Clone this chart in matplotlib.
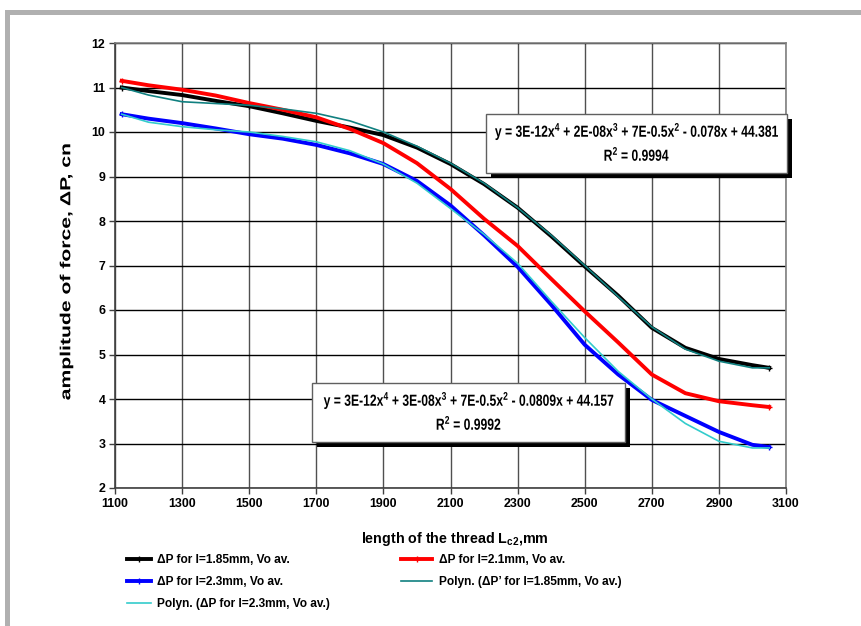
import matplotlib
matplotlib.use("Agg")
import matplotlib.pyplot as plt
from matplotlib.patches import Rectangle, PathPatch
from matplotlib.textpath import TextPath
from matplotlib.font_manager import FontProperties
from matplotlib.transforms import Affine2D

# thread length, mm
length = [1120, 1200, 1300, 1400, 1500, 1600, 1700, 1800, 1900, 2000, 2100,
          2200, 2300, 2400, 2500, 2600, 2700, 2800, 2900, 3000, 3050]

# amplitude of force, cn
dp_185 = [11.0, 10.92, 10.83, 10.7, 10.58, 10.42, 10.25, 10.1, 9.93, 9.65, 9.28,
          8.83, 8.3, 7.66, 6.98, 6.32, 5.6, 5.15, 4.9, 4.76, 4.7]
dp_21 = [11.15, 11.05, 10.95, 10.82, 10.65, 10.5, 10.33, 10.07, 9.75, 9.3, 8.72,
         8.05, 7.44, 6.7, 5.97, 5.27, 4.55, 4.13, 3.95, 3.86, 3.82]
dp_23 = [10.4, 10.3, 10.2, 10.08, 9.95, 9.85, 9.71, 9.52, 9.28, 8.9, 8.35,
         7.68, 6.97, 6.12, 5.22, 4.55, 3.98, 3.62, 3.26, 2.97, 2.92]
poly_185 = [11.0, 10.83, 10.68, 10.64, 10.6, 10.52, 10.42, 10.25, 10.0, 9.68, 9.3,
            8.85, 8.3, 7.68, 7.0, 6.3, 5.62, 5.12, 4.85, 4.7, 4.7]
poly_23 = [10.4, 10.22, 10.12, 10.05, 10.0, 9.9, 9.78, 9.58, 9.28, 8.85, 8.28,
           7.7, 7.05, 6.2, 5.38, 4.62, 4.0, 3.45, 3.05, 2.9, 2.9]

eq_185 = "y = 3E-12x$^4$ + 2E-08x$^3$ + 7E-0.5x$^2$ - 0.078x + 44.381"
r2_185 = "R$^2$ = 0.9994"
eq_23 = "y = 3E-12x$^4$ + 3E-08x$^3$ + 7E-0.5x$^2$ - 0.0809x + 44.157"
r2_23 = "R$^2$ = 0.9992"
y_title = "amplitude of force, ΔP, cn"
x_title = "length of the thread L$_{c2}$,mm"

plt.rcParams['font.family'] = ['Liberation Sans', 'DejaVu Sans']
plt.rcParams['font.weight'] = 'bold'
plt.rcParams['mathtext.fontset'] = 'custom'
plt.rcParams['mathtext.rm'] = 'Liberation Sans:bold'
plt.rcParams['mathtext.default'] = 'rm'

W, H = 862, 626
fig = plt.figure(figsize=(W / 100, H / 100), dpi=100)
ax = fig.add_axes([115 / W, 1 - 488 / H, 671 / W, 445 / H])

ax.plot(length, dp_185, color='black', lw=2.8, marker='+', ms=4, markevery=[0, 4, -1], label='ΔP for l=1.85mm, Vo av.')
ax.plot(length, dp_21, color='#ff0000', lw=2.8, marker='+', ms=4, markevery=[0, -1], label='ΔP for l=2.1mm, Vo av.')
ax.plot(length, dp_23, color='#0000ff', lw=2.8, marker='+', ms=4, markevery=[0, -1], label='ΔP for l=2.3mm, Vo av.')
ax.plot(length, poly_185, color='#108080', lw=1.2, label='Polyn. (ΔP\u2019 for l=1.85mm, Vo av.)')
ax.plot(length, poly_23, color='#33cccc', lw=1.2, label='Polyn. (ΔP for l=2.3mm, Vo av.)')

ax.set_xlim(1100, 3100)
ax.set_ylim(2, 12)
ax.set_xticks(range(1100, 3101, 200))
ax.set_yticks(range(2, 13))
ax.xaxis.grid(True, color='#505050', lw=1)
ax.yaxis.grid(True, color='black', lw=1)
ax.tick_params(labelsize=8.9, length=4, width=1, color='#404040', pad=3)
for lab in ax.get_xticklabels() + ax.get_yticklabels():
    lab.set_fontweight('bold')
for s in ax.spines.values():
    s.set_color('#808080')
    s.set_linewidth(1.2)
ax.spines['left'].set_color('#404040')
ax.spines['bottom'].set_color('#404040')

ax.set_xlabel(x_title, fontsize=10.3, fontweight='bold')
ax.xaxis.set_label_coords(0.5067, -0.095)

# legends below the plot
h, l = ax.get_legend_handles_labels()
leg1 = fig.legend([h[0], h[2], h[4]], [l[0], l[2], l[4]], loc='upper left',
                  bbox_to_anchor=(127 / W, 1 - 554 / H), frameon=False, borderpad=0,
                  borderaxespad=0, handlelength=2.0, handletextpad=0.5,
                  labelspacing=0.85, prop={'size': 8.6, 'weight': 'bold'})
leg2 = fig.legend([h[1], h[3]], [l[1], l[3]], loc='upper left',
                  bbox_to_anchor=(401 / W, 1 - 554 / H), frameon=False, borderpad=0,
                  borderaxespad=0, handlelength=2.6, handletextpad=0.55,
                  labelspacing=0.85, prop={'size': 8.6, 'weight': 'bold'})

bold = FontProperties(family='Liberation Sans', weight='bold')


def path_text(s, cx, cy, size, sx=1.0, rot=0):
    # text drawn as a path with its own width factor, centred on (cx, cy) in image pixels
    tp = TextPath((0, 0), s, size=size, prop=bold)
    bb = tp.get_extents()
    k = 100 / 72
    tr = (Affine2D().translate(-(bb.x0 + bb.x1) / 2, -size * 0.36)
          .scale(k * sx, k).rotate_deg(rot).translate(cx, H - cy))
    fig.patches.append(PathPatch(tp, transform=tr, facecolor='black', edgecolor='none',
                                 zorder=7))


path_text(y_title, 65, 272, 10.5, sx=1.45, rot=90)


def eq_box(x0, y0, x1, y1, line1, line2):
    # shadow then box, in figure pixels
    fig.patches.append(Rectangle(((x0 + 5) / W, 1 - (y1 + 5) / H), (x1 - x0) / W, (y1 - y0) / H,
                                 transform=fig.transFigure, facecolor='black', edgecolor='none', zorder=5))
    fig.patches.append(Rectangle((x0 / W, 1 - y1 / H), (x1 - x0) / W, (y1 - y0) / H,
                                 transform=fig.transFigure, facecolor='white', edgecolor='#606060',
                                 lw=1, zorder=6))
    cx = (x0 + x1) / 2
    path_text(line1, cx, y0 + 17, 11.5, sx=0.76)
    path_text(line2, cx, y0 + 41, 11.5, sx=0.76)


eq_box(486, 114, 787, 173, eq_185, r2_185)
eq_box(312, 383, 625, 442, eq_23, r2_23)

# grey frame at top and left
fig.patches.append(Rectangle((5 / W, 0), 5 / W, 1 - 10 / H, transform=fig.transFigure,
                             facecolor='#b0b0b0', edgecolor='none'))
fig.patches.append(Rectangle((5 / W, 1 - 15 / H), 1, 5 / H, transform=fig.transFigure,
                             facecolor='#b0b0b0', edgecolor='none'))

fig.savefig('out.png', dpi=100)
